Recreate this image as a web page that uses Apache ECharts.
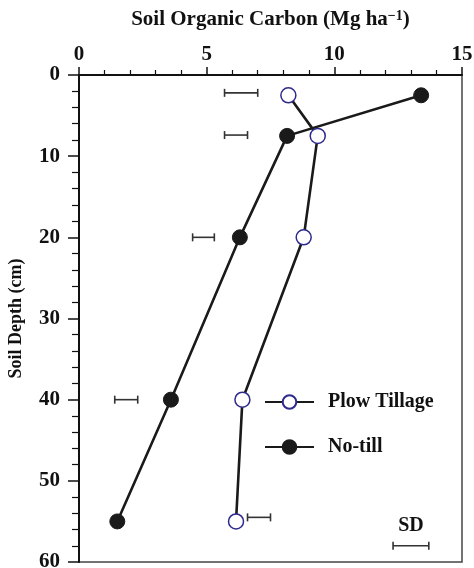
<!DOCTYPE html>
<html>
<head>
<meta charset="utf-8">
<script src="https://cdn.jsdelivr.net/npm/echarts@6/dist/echarts.min.js"></script>
<style>
  html, body { margin: 0; padding: 0; background: #fff; }
  #chart { width: 474px; height: 568px; }
</style>
</head>
<body>
<div id="chart"></div>
<script>
// Soil depth (cm) of each sampled layer
const depths = [2.5, 7.5, 20, 40, 55];
// Soil organic carbon (Mg ha-1) per layer
const plowTillage = [8.2, 9.35, 8.8, 6.4, 6.15];
const noTill = [13.4, 8.15, 6.3, 3.6, 1.5];
// Standard deviation bars: depth, left end, right end
const sdDepths = [2.2, 7.4, 20, 40, 54.5];
const sdLow = [5.7, 5.7, 4.45, 1.4, 6.6];
const sdHigh = [7.0, 6.6, 5.3, 2.3, 7.5];
// SD key in the lower right corner
const sdKeyDepth = 58;
const sdKeyLow = 12.3;
const sdKeyHigh = 13.7;
const sdKeyLabel = 'SD';

// Axis ticks
const xTicks = [0, 5, 10, 15];
const yTicks = [0, 10, 20, 30, 40, 50, 60];

const FONT = '"Liberation Serif", "Times New Roman", serif';

const chart = echarts.init(document.getElementById('chart'), null, { renderer: 'canvas' });

function pairs(xs) {
  return xs.map((x, i) => [x, depths[i]]);
}

function errorBar(api, lowVal, highVal, depth, style) {
  const p1 = api.coord([lowVal, depth]);
  const p2 = api.coord([highVal, depth]);
  const cap = 4;
  return [
    { type: 'line', shape: { x1: p1[0], y1: p1[1], x2: p2[0], y2: p2[1] }, style },
    { type: 'line', shape: { x1: p1[0], y1: p1[1] - cap, x2: p1[0], y2: p1[1] + cap }, style },
    { type: 'line', shape: { x1: p2[0], y1: p2[1] - cap, x2: p2[0], y2: p2[1] + cap }, style }
  ];
}

const barStyle = { stroke: '#333', lineWidth: 1.6, fill: null };

const option = {
  backgroundColor: '#fff',
  animation: false,
  grid: {
    left: 79, top: 75, right: 12, bottom: 6,
    containLabel: false,
    outerBoundsMode: 'none',
    show: true, borderColor: '#444', borderWidth: 1.5
  },
  legend: {
    data: ['Plow Tillage', 'No-till'],
    orient: 'vertical',
    left: 264,
    top: 392,
    padding: 0,
    itemWidth: 49,
    itemHeight: 17,
    itemGap: 25,
    textStyle: {
      fontFamily: FONT, fontWeight: 'bold', fontSize: 20, lineHeight: 16,
      color: '#111', padding: [0, 0, 0, 9]
    }
  },
  xAxis: {
    type: 'value',
    position: 'top',
    min: 0, max: 15, interval: 5,
    name: 'Soil Organic Carbon (Mg ha{sup|\u22121})',
    nameLocation: 'middle',
    nameGap: 44,
    nameTextStyle: {
      fontFamily: FONT, fontWeight: 'bold', fontSize: 21, color: '#111',
      rich: {
        sup: { fontFamily: FONT, fontWeight: 'bold', fontSize: 14, color: '#111', verticalAlign: 'top', padding: [0, 0, 8, 0] }
      }
    },
    axisLine: { show: true, onZero: false, lineStyle: { color: '#111', width: 2 } },
    axisTick: { show: true, inside: false, length: 8, lineStyle: { color: '#111', width: 1.5 } },
    minorTick: { show: true, splitNumber: 5, length: 5, lineStyle: { color: '#111', width: 1.2 } },
    splitLine: { show: false },
    axisLabel: {
      margin: 10, fontFamily: FONT, fontWeight: 'bold', fontSize: 21, color: '#111',
      formatter: v => (xTicks.includes(v) ? String(v) : '')
    }
  },
  yAxis: {
    type: 'value',
    inverse: true,
    min: 0, max: 60, interval: 10,
    name: 'Soil Depth (cm)',
    nameLocation: 'middle',
    nameRotate: 90,
    nameGap: 54,
    nameTextStyle: { fontFamily: FONT, fontWeight: 'bold', fontSize: 18, color: '#111' },
    axisLine: { show: true, onZero: false, lineStyle: { color: '#111', width: 2 } },
    axisTick: { show: true, inside: false, length: 11, lineStyle: { color: '#111', width: 1.5 } },
    minorTick: { show: true, splitNumber: 5, length: 7, lineStyle: { color: '#111', width: 1.2 } },
    splitLine: { show: false },
    axisLabel: {
      margin: 19, fontFamily: FONT, fontWeight: 'bold', fontSize: 21, color: '#111',
      formatter: v => (yTicks.includes(v) ? String(v) : '')
    }
  },
  series: [
    {
      name: 'SD bars',
      type: 'custom',
      data: sdDepths.map((d, i) => [sdLow[i], sdHigh[i], d]),
      renderItem: (params, api) => ({
        type: 'group',
        children: errorBar(api, api.value(0), api.value(1), api.value(2), barStyle)
      }),
      encode: { x: [0, 1], y: 2 },
      silent: true,
      z: 1
    },
    {
      name: 'SD key',
      type: 'custom',
      data: [[sdKeyLow, sdKeyHigh, sdKeyDepth]],
      renderItem: (params, api) => {
        const lo = api.value(0), hi = api.value(1), d = api.value(2);
        const mid = api.coord([(lo + hi) / 2, d]);
        const children = errorBar(api, lo, hi, d, barStyle);
        children.push({
          type: 'text',
          x: mid[0], y: mid[1] - 20,
          style: {
            text: sdKeyLabel, textAlign: 'center', textVerticalAlign: 'middle',
            fontFamily: FONT, fontWeight: 'bold', fontSize: 20, fill: '#111'
          }
        });
        return { type: 'group', children };
      },
      encode: { x: [0, 1], y: 2 },
      silent: true,
      z: 1
    },
    {
      name: 'No-till',
      type: 'line',
      data: pairs(noTill),
      symbol: 'circle',
      symbolSize: 15,
      lineStyle: { color: '#1a1a1a', width: 2.6 },
      itemStyle: { color: '#1a1a1a', borderColor: '#1a1a1a', borderWidth: 1 },
      z: 3
    },
    {
      name: 'Plow Tillage',
      type: 'line',
      data: pairs(plowTillage),
      symbol: 'circle',
      symbolSize: 15,
      showAllSymbol: true,
      lineStyle: { color: '#1a1a1a', width: 2.6 },
      itemStyle: { color: '#fff', borderColor: '#2e2a8c', borderWidth: 1.5 },
      z: 4
    }
  ]
};

chart.setOption(option);
</script>
</body>
</html>
